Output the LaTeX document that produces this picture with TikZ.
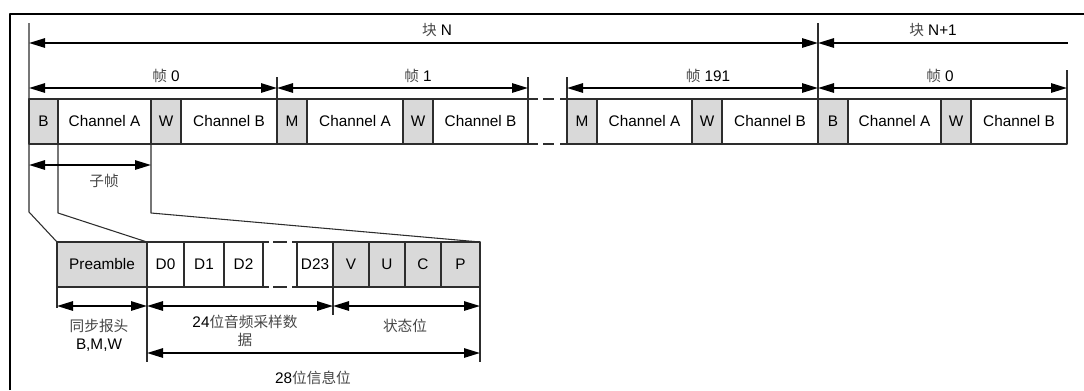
\documentclass[tikz,border=0pt]{standalone}
\usepackage{fontspec}
\setmainfont{Liberation Sans}
\newfontfamily\cjk{Noto Sans CJK SC}
\usetikzlibrary{arrows.meta}

\begin{document}
\begin{tikzpicture}[x=.75pt,y=-.75pt,line join=round,
	font=\fontsize{11.5}{13.5}\selectfont]
	\definecolor{cellgray}{RGB}{217,217,217}
	\definecolor{edgegray}{RGB}{45,45,45}
	\definecolor{zhgray}{RGB}{70,70,70}
	\tikzset{
		tip/.tip={Triangle[length=12pt,width=7pt]},
		dim/.style={tip-tip,line width=1.3pt},
		ldim/.style={tip-,line width=1.3pt},
		guide/.style={edgegray,line width=.8pt},
		lbl/.style={inner sep=1pt}
	}
	\newcommand{\zh}[1]{{\cjk\fontsize{11}{13.5}\selectfont\color{zhgray}#1}}
	\useasboundingbox (0,0) rectangle (1084,390);
	
	% outer frame (only top and left visible)
	\draw[line width=1.8pt] (10,390)--(10,14)--(1084,14);
	
	% upper row: frames of block N and N+1
	\def\ta{99}
	\def\ba{144}
	\foreach \i/\j/\c/\t [count=\n] in {29/58/cellgray/B,58/151/white/Channel A,
		151/181/cellgray/W,181/277/white/Channel B,277/307/cellgray/M,
		307/403/white/Channel A,403/433/cellgray/W,433/528/white/Channel B,
		567/597/cellgray/M,597/692/white/Channel A,692/722/cellgray/W,
		722/818/white/Channel B,818/848/cellgray/B,848/941/white/Channel A,
		941/971/cellgray/W,971/1067/white/Channel B}{
		\draw[guide,fill=\c] (\i,\ta) rectangle (\j,\ba);
		\node (ra\n) at ({(\i+\j)/2},{(\ta+\ba)/2}) {\t};
	}
	\foreach \i/\j in {528/538,543/554,560/567}{
		\draw[guide] (\i,\ta)--(\j,\ta) (\i,\ba)--(\j,\ba);
	}
	
	% lower row: one subframe
	\def\tb{242}
	\def\bb{287}
	\foreach \i/\j/\c/\t [count=\n] in {57/147/cellgray/Preamble,147/184/white/D0,
		184/224/white/D1,224/263/white/D2,297/333/white/D23,333/369/cellgray/V,
		369/405/cellgray/U,405/441/cellgray/C,441/480/cellgray/P}{
		\draw[guide,fill=\c] (\i,\tb) rectangle (\j,\bb);
		\node (rb\n) at ({(\i+\j)/2},{(\tb+\bb)/2}) {\t};
	}
	\foreach \i/\j in {263/269,273/287,292/297}{
		\draw[guide] (\i,\tb)--(\j,\tb) (\i,\bb)--(\j,\bb);
	}
	
	% guide lines
	\draw[guide] (29,23)--(29,212)--(57,\tb);
	\draw[guide] (818,23)--(818,\ta);
	\foreach \x in {277,528,567}{
		\draw[guide] (\x,77)--(\x,\ta);
	}
	\draw[guide] (1067,70)--(1067,\ta);
	\draw[guide] (58,\ba)--(58,213)--(147,\tb);
	\draw[guide] (151,\ba)--(151,213)--(480,\tb);
	\draw[guide] (57,\bb)--(57,308);
	\draw[guide] (147,\bb)--(147,362);
	\draw[guide] (333,\bb)--(333,315);
	\draw[guide] (480,\bb)--(480,362);
	
	% dimension ends
	\path
	(29,43) coordinate (bN0) (818,43) coordinate (bN1) (1068,43) coordinate (bN2)
	(29,88) coordinate (f0) (277,88) coordinate (f1) (528,88) coordinate (f2)
	(567,88) coordinate (f3) (818,88) coordinate (f4) (1067,88) coordinate (f5)
	(29,165) coordinate (s0) (151,165) coordinate (s1)
	(57,306) coordinate (p0) (147,306) coordinate (p1)
	(333,306) coordinate (p2) (480,306) coordinate (p3)
	(147,353) coordinate (q0) (480,353) coordinate (q1);
	
	\draw[dim] (bN0)--(bN1);
	\draw[ldim] (bN1)--(bN2);
	\draw[dim] (f0)--(f1);
	\draw[dim] (f1)--(f2);
	\draw[dim] (f3)--(f4);
	\draw[dim] (f4)--(f5);
	\draw[dim] (s0)--(s1);
	\draw[dim] (p0)--(p1);
	\draw[dim] (p1)--(p2);
	\draw[dim] (p2)--(p3);
	\draw[dim] (q0)--(q1);
	
	% labels
	\node[lbl] (blkN) at (437,30) {\zh{块} N};
	\node[lbl] (blkNa) at (933,30) {\zh{块} N+1};
	\node[lbl] (frm0) at (166,76) {\zh{帧} 0};
	\node[lbl] (frm1) at (418,76) {\zh{帧} 1};
	\node[lbl] (frmL) at (708,76) {\zh{帧} 191};
	\node[lbl] (frm0b) at (940,76) {\zh{帧} 0};
	\node[lbl] (sub) at (104,181) {\zh{子帧}};
	\node[lbl,align=center] (sync) at (99,335) {\zh{同步报头}\\B,M,W};
	\node[lbl,align=center] (data) at (245,331) {24\zh{位音频采样数}\\\zh{据}};
	\node[lbl] (stat) at (405,326) {\zh{状态位}};
	\node[lbl] (info) at (313,378) {28\zh{位信息位}};
\end{tikzpicture}
\end{document}
